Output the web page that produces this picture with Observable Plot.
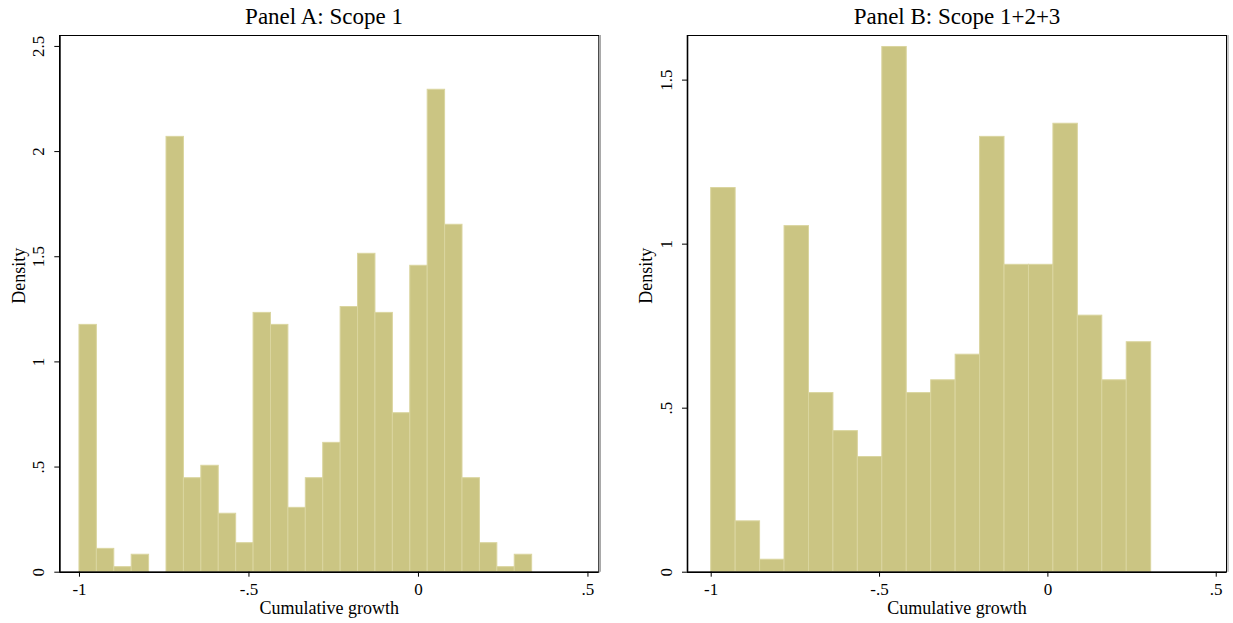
<!DOCTYPE html>
<html>
<head>
<meta charset="utf-8">
<script src="https://cdn.jsdelivr.net/npm/d3@7"></script>
<script src="https://cdn.jsdelivr.net/npm/@observablehq/plot@0.6"></script>
<style>
  body { margin: 0; background: #fff; }
  #wrap { position: relative; width: 1233px; height: 623px; overflow: hidden;
          font-family: "Liberation Serif", serif; }
  .title { position: absolute; top: 3px; font-size: 23px; line-height: 27px;
           text-align: center; color: #000; white-space: nowrap; font-family: "Liberation Serif", serif; }
  .panel { position: absolute; top: 30px; }
  #wrap svg, #wrap svg text { font-family: "Liberation Serif", serif !important; }
</style>
</head>
<body>
<div id="wrap">
  <div class="title" style="left:0;width:648px">Panel A: Scope 1</div>
  <div class="title" style="left:682px;width:550px">Panel B: Scope 1+2+3</div>
  <div class="panel" id="pa" style="left:0"></div>
  <div class="panel" id="pb" style="left:616px"></div>
</div>
<script>
// ---- Data ----
const xLabel = "Cumulative growth";
const yLabel = "Density";

// Histogram bins: equal-width bins from min to max of cumulative growth
const scopeAMin = -1, scopeAMax = 0.3354;
const scopeADensity = [1.176, 0.111, 0.024, 0.083, 0, 2.070, 0.447, 0.506, 0.278, 0.138,
                       1.233, 1.176, 0.306, 0.447, 0.615, 1.261, 1.514, 1.233, 0.756, 1.457,
                       2.294, 1.652, 0.447, 0.138, 0.024, 0.083];

const scopeBMin = -1, scopeBMax = 0.3068;
const scopeBDensity = [1.171, 0.155, 0.038, 1.055, 0.546, 0.430, 0.351, 1.601, 0.546, 0.585,
                       0.663, 1.327, 0.937, 0.937, 1.367, 0.782, 0.585, 0.701];

const xTickValues = [-1, -0.5, 0, 0.5];
const xTickLabels = ["-1", "-.5", "0", ".5"];
const yTickValuesA = [0, 0.5, 1, 1.5, 2, 2.5];
const yTickLabelsA = ["0", ".5", "1", "1.5", "2", "2.5"];
const yTickValuesB = [0, 0.5, 1, 1.5];
const yTickLabelsB = ["0", ".5", "1", "1.5"];

// ---- Styling ----
const barFill = "#cbc583";
const barStroke = "#dad59f";
const font = "Liberation Serif, serif";

function histPanel({density, lo, hi, xDomain, yDomain, yTicks, yTickLabels, width, marginLeft, marginRight}) {
  const n = density.length, w = (hi - lo) / n;
  const bins = density.map((d, i) => ({x1: lo + i * w, x2: lo + (i + 1) * w, density: d}));
  return Plot.plot({
    width, height: 593,
    marginTop: 5, marginBottom: 51.3, marginLeft, marginRight,
    style: {fontFamily: font, fontSize: "17px", color: "#000", background: "transparent", overflow: "visible"},
    x: {domain: xDomain},
    y: {domain: yDomain},
    marks: [
      Plot.rectY(bins, {x1: "x1", x2: "x2", y1: 0, y2: "density", fill: barFill, stroke: barStroke, strokeWidth: 1, inset: 0}),
      Plot.frame({stroke: "#000", strokeWidth: 1}),
      Plot.ruleX([xDomain[1]], {stroke: "#a0a0a0", strokeWidth: 1.2, dx: 1.5}),
      Plot.ruleX([xDomain[0]], {stroke: "#000", strokeWidth: 1.6}),
      Plot.ruleY([0], {stroke: "#000", strokeWidth: 1.6}),
      Plot.axisX(xTickValues, {tickSize: 5, tickPadding: 6, fontSize: 17, fontFamily: font, label: null,
        tickFormat: d => xTickLabels[xTickValues.indexOf(d)]}),
      Plot.axisY(yTicks, {tickSize: 5, tickPadding: 11, tickRotate: -90, fontSize: 17, fontFamily: font, label: null,
        tickFormat: d => yTickLabels[yTicks.indexOf(d)]}),
      Plot.text([xLabel], {text: d => d, frameAnchor: "bottom", dy: 41.3, lineAnchor: "bottom", fontSize: 18, fontFamily: font}),
      Plot.text([yLabel], {text: d => d, frameAnchor: "left", dx: -35.3, rotate: -90, lineAnchor: "bottom", fontSize: 18, fontFamily: font})
    ]
  });
}

document.getElementById("pa").append(histPanel({
  density: scopeADensity, lo: scopeAMin, hi: scopeAMax,
  xDomain: [-1.058, 0.532], yDomain: [0, 2.552],
  yTicks: yTickValuesA, yTickLabels: yTickLabelsA,
  width: 616, marginLeft: 59.3, marginRight: 17.7
}));

document.getElementById("pb").append(histPanel({
  density: scopeBDensity, lo: scopeBMin, hi: scopeBMax,
  xDomain: [-1.0704, 0.5305], yDomain: [0, 1.636],
  yTicks: yTickValuesB, yTickLabels: yTickLabelsB,
  width: 617, marginLeft: 71, marginRight: 7
}));
</script>
</body>
</html>
